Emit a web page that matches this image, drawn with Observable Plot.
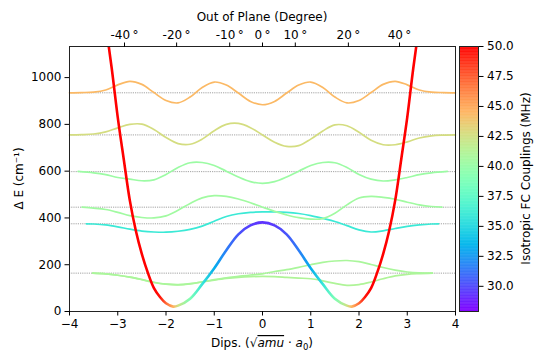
<!DOCTYPE html>
<html><head><meta charset="utf-8">
<script src="https://cdn.jsdelivr.net/npm/d3@7"></script>
<script src="https://cdn.jsdelivr.net/npm/@observablehq/plot@0.6"></script>
<style>
body{margin:0;background:#fff;}
#wrap{position:relative;width:550px;height:361px;overflow:hidden;font-family:"DejaVu Sans";}
#wrap svg{position:absolute;top:0;overflow:visible;}
</style></head><body><div id="wrap"></div>
<script>
// ---- axes / ticks ----
const bottomTicks = [-4, -3, -2, -1, 0, 1, 2, 3, 4];
const yTicks = [0, 200, 400, 600, 800, 1000];
const topTickX = [-2.86, -1.78, -0.68, 0, 0.68, 1.78, 2.84];
const topTickLabels = ["-40\u2009°", "-20\u2009°", "-10\u2009°", "0\u2009°", "10\u2009°", "20\u2009°", "40\u2009°"];
const cbTicks = [30, 32.5, 35, 37.5, 40, 42.5, 45, 47.5, 50];
const colorDomain = [27.9, 50];

// ---- potential curve (double well) ----
const potX = [-3.3,-3.125,-3,-2.875,-2.75,-2.625,-2.5,-2.375,-2.25,-2.125,-2,-1.85,-1.75,-1.5,-1.25,-1,-0.75,-0.5,-0.25,0,0.25,0.5,0.75,1,1.25,1.5,1.75,1.85,2,2.125,2.25,2.375,2.5,2.625,2.75,2.875,3,3.125,3.3];
const potE = [1300,1040,830,650,475,345,245,165,100,62,35,21,25,55,117,185,262,330,368,381,368,330,262,185,117,55,25,21,35,62,100,165,245,345,475,650,830,1040,1300];
const potC = [52,52,52,52,52,52,52,52,51,49.5,47,44.5,42.3,38.8,35.8,33.2,31.5,30.3,29.6,29.3,29.6,30.3,31.5,33.2,35.8,38.8,42.3,44.5,47,49.5,51,52,52,52,52,52,52,52,52];

// ---- energy levels (dashed lines) ----
const levelE = [164, 375, 446, 598, 755, 935];

// ---- vibrational wavefunctions ----
const gsX = [-3.52,-3.25,-3,-2.75,-2.5,-2.25,-2,-1.75,-1.5,-1.25,-1,-0.75,-0.5,-0.25,0,0.25,0.5,0.75,1,1.25,1.5,1.75,2,2.25,2.5,2.75,3,3.25,3.52];
const wf0E = [164,161,155,147,136,124,117,114,118,126,134,141,146,149,150,149,146,143,140,131,120,112,115,126,140,152,159,162,164];
const wf1E = [164,161,155,147,137,125,117,115,119,127,136,144,150,156,161,171,179,189,200,210,216,218,213,201,188,177,169,165,164];
const wf2X = [-3.65,-3.5,-3.25,-3,-2.75,-2.5,-2.25,-2,-1.75,-1.5,-1.25,-1,-0.75,-0.5,-0.25,0,0.25,0.5,0.75,1,1.25,1.5,1.75,2,2.25,2.5,2.75,3,3.25,3.5,3.65];
const wf2E = [375,374,370,362,352,344,340,339,343,351,365,386,406,418,424,426,426,424,419,410,398,385,367,349,340,345,355,364,370,374,375];
const wf3X = [-3.74,-3.5,-3.25,-3,-2.75,-2.5,-2.25,-2,-1.75,-1.5,-1.25,-1,-0.75,-0.5,-0.25,0,0.25,0.5,0.75,1,1.25,1.5,1.75,2,2.25,2.5,2.75,3,3.25,3.5,3.72];
const wf3E = [446,442,436,424,410,402,400,409,433,462,486,495,492,481,465,446,428,413,401,395,397,420,456,485,492,488,480,467,456,449,446];
const wf4X = [-3.82,-3.5,-3.25,-3,-2.75,-2.5,-2.25,-2,-1.75,-1.5,-1.25,-1,-0.75,-0.5,-0.25,0,0.25,0.5,0.75,1,1.25,1.5,1.75,2,2.25,2.5,2.75,3,3.25,3.5,3.83];
const wf4E = [599,593,585,573,566,559,563,586,616,636,637,624,600,575,555,548,555,575,600,624,637,636,616,586,566,558,563,573,585,593,599];
const fullX = [-4,-3.75,-3.5,-3.25,-3,-2.75,-2.5,-2.25,-2,-1.75,-1.5,-1.25,-1,-0.75,-0.5,-0.25,0,0.25,0.5,0.75,1,1.25,1.5,1.75,2,2.25,2.5,2.75,3,3.25,3.5,3.75,4];
const wf5E = [755,756,759,768,785,800,801,778,744,718,715,737,773,800,804,786,755,724,706,709,737,772,798,794,766,732,713,713,725,742,751,754,755];
const wf6E = [935,936,938,947,969,984,971,936,902,892,917,958,981,968,934,898,884,898,934,968,981,958,917,892,902,936,971,984,969,947,938,936,935];
// mean coupling (MHz) of each state -> line colour
const wfCoupling = [41, 40.8, 36, 40.4, 40.2, 42.6, 44.3];

// ---- build ----
function rainbow(t) { // matplotlib "rainbow"
  const r = Math.min(1, Math.abs(2 * t - 0.5));
  const g = Math.max(0, Math.sin(Math.PI * t));
  const b = Math.max(0, Math.cos(Math.PI * t / 2));
  return d3.rgb(r * 255, g * 255, b * 255).formatHex();
}
const colorOpts = {type: "linear", domain: colorDomain, interpolate: rainbow, clamp: true};
const waves = [[gsX, wf0E], [gsX, wf1E], [wf2X, wf2E], [wf3X, wf3E], [wf4X, wf4E], [fullX, wf5E], [fullX, wf6E]];
const wfData = waves.flatMap(([xs, es], k) => xs.map((x, i) => ({k, x, e: es[i], c: wfCoupling[k]})));
const potData = potX.map((x, i) => ({x, e: potE[i], c: potC[i]}));
const topMap = new Map(topTickX.map((x, i) => [x, topTickLabels[i]]));
const font = {fontFamily: "DejaVu Sans", fontSize: "12px", color: "#000", background: "transparent", overflow: "visible"};
const M = {top: 46, right: 95, bottom: 50, left: 69};

const plot = Plot.plot({
  width: 550, height: 361, marginTop: M.top, marginRight: M.right, marginBottom: M.bottom, marginLeft: M.left,
  style: font,
  x: {domain: [-4, 4]},
  y: {domain: [0, 1133]},
  color: colorOpts,
  marks: [
    Plot.ruleY(levelE, {stroke: "#999", strokeWidth: 0.9, strokeDasharray: "1.2,1"}),
    Plot.line(wfData, {x: "x", y: "e", z: "k", stroke: "c", strokeWidth: 1.7, curve: "catmull-rom"}),
    Plot.line(potData, {x: "x", y: "e", stroke: "red", strokeWidth: 2.6, curve: "catmull-rom"}),
    Plot.frame({stroke: "#222", strokeWidth: 1}),
    Plot.axisX(bottomTicks, {anchor: "bottom", tickSize: 4.5, tickPadding: 3.5, tickFormat: d3.format("d"), label: null}),
    Plot.axisY(yTicks, {anchor: "left", tickSize: 4.5, tickPadding: 3.5, tickFormat: d3.format("d"), label: null}),
    Plot.axisX(topTickX, {anchor: "top", tickSize: 4.5, tickPadding: 3.5, tickFormat: d => topMap.get(d), label: null})
  ]
});

// gradient along the potential curve (colours from the colour scale) and clip to the frame
const xs = plot.scale("x"), cs = plot.scale("color");
const svg = d3.select(plot);
const x0 = xs.apply(potX[0]), x1 = xs.apply(potX[potX.length - 1]);
const defs = svg.append("defs");
const grad = defs.append("linearGradient")
  .attr("id", "potGrad").attr("gradientUnits", "userSpaceOnUse")
  .attr("x1", x0).attr("x2", x1).attr("y1", 0).attr("y2", 0);
potX.forEach((x, i) => {
  grad.append("stop").attr("offset", (xs.apply(x) - x0) / (x1 - x0)).attr("stop-color", cs.apply(potC[i]));
});
defs.append("clipPath").attr("id", "frameClip").append("rect")
  .attr("x", M.left).attr("y", M.top).attr("width", 550 - M.left - M.right).attr("height", 361 - M.top - M.bottom);
svg.selectAll('g[stroke-width="2.6"]').attr("stroke", "url(#potGrad)").attr("clip-path", "url(#frameClip)");

svg.append("text").attr("x", 262).attr("y", 21).attr("text-anchor", "middle")
  .attr("font-size", 12).attr("fill", "#000").text("Out of Plane (Degree)");
const xl = svg.append("text").attr("x", 262).attr("y", 347).attr("text-anchor", "middle")
  .attr("font-size", 12).attr("fill", "#000");
xl.append("tspan").text("Dips. (");
xl.append("tspan").text("√");
xl.append("tspan").attr("font-style", "italic").style("text-decoration", "overline").text("amu");
xl.append("tspan").text(" · ");
xl.append("tspan").attr("font-style", "italic").text("a");
xl.append("tspan").attr("font-size", 8.5).attr("dy", 3).text("0");
xl.append("tspan").attr("dy", -3).text(")");
svg.append("text").attr("transform", "translate(23,178.5) rotate(-90)").attr("text-anchor", "middle")
  .attr("font-size", 12).attr("fill", "#000").text("Δ E (cm⁻¹)");

document.getElementById("wrap").appendChild(plot);

const ramp = d3.range(colorDomain[0], colorDomain[1], 0.05);
const cb = Plot.plot({
  width: 92, height: 361, marginTop: 46, marginBottom: 50, marginLeft: 1, marginRight: 72,
  style: font,
  x: {domain: [0, 1], axis: null},
  y: {domain: colorDomain},
  color: colorOpts,
  marks: [
    Plot.rect(ramp, {x1: 0, x2: 1, y1: d => d, y2: d => Math.min(colorDomain[1], d + 0.08), fill: d => d}),
    Plot.frame({stroke: "#222", strokeWidth: 1}),
    Plot.axisY(cbTicks, {anchor: "right", tickSize: 4.5, tickPadding: 4, tickFormat: d3.format(".1f"), label: null})
  ]
});
d3.select(cb).append("text").attr("transform", "translate(71.5,178.5) rotate(-90)").attr("text-anchor", "middle")
  .attr("font-size", 12).attr("fill", "#000").text("Isotropic FC Couplings (MHz)");
cb.style.left = "458px";
document.getElementById("wrap").appendChild(cb);
</script></body></html>
